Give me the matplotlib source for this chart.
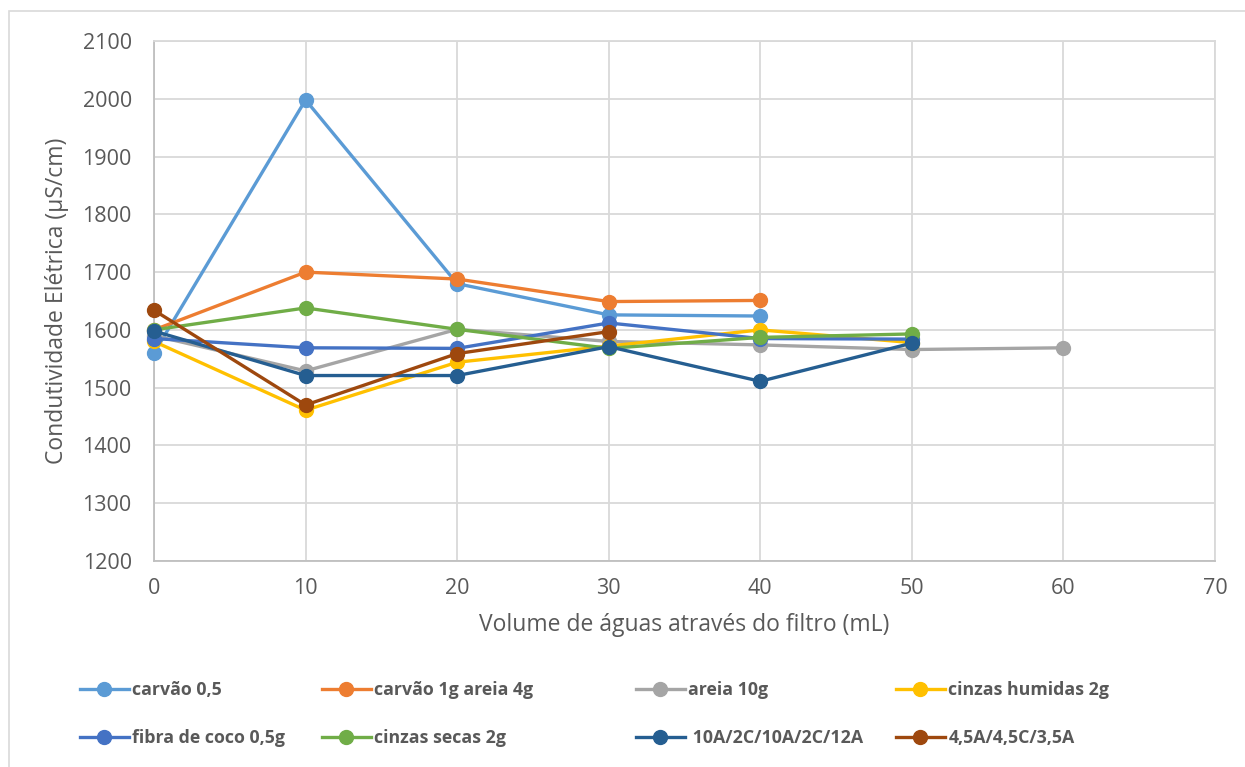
import matplotlib
matplotlib.use("Agg")
import matplotlib.pyplot as plt
from matplotlib.lines import Line2D
from matplotlib.patches import Rectangle

plt.rcParams['font.family'] = ['Open Sans', 'DejaVu Sans']

series_names = ["carvão 0,5", "carvão 1g areia 4g", "areia 10g", "cinzas humidas 2g",
                "fibra de coco 0,5g", "cinzas secas 2g", " 10A/2C/10A/2C/12A", "4,5A/4,5C/3,5A"]
colors = ["#5b9bd5", "#ed7d31", "#a5a5a5", "#ffc000",
          "#4472c4", "#70ad47", "#255e91", "#9e480e"]

x_carvao05 = [0, 10, 20, 30, 40]
y_carvao05 = [1560, 1998, 1680, 1626, 1624]
x_carvao1g = [0, 10, 20, 30, 40]
y_carvao1g = [1600, 1700, 1688, 1649, 1651]
x_areia = [0, 10, 20, 30, 40, 50, 60]
y_areia = [1590, 1529, 1601, 1580, 1574, 1566, 1569]
x_humidas = [0, 10, 20, 30, 40, 50]
y_humidas = [1580, 1461, 1544, 1572, 1600, 1578]
x_fibra = [0, 10, 20, 30, 40, 50]
y_fibra = [1585, 1569, 1568, 1612, 1585, 1584]
x_secas = [0, 10, 20, 30, 40, 50]
y_secas = [1600, 1638, 1601, 1568, 1587, 1593]
x_10a = [0, 10, 20, 30, 40, 50]
y_10a = [1598, 1521, 1521, 1571, 1511, 1577]
x_45a = [0, 10, 20, 30]
y_45a = [1634, 1470, 1559, 1597]

xs = [x_carvao05, x_carvao1g, x_areia, x_humidas, x_fibra, x_secas, x_10a, x_45a]
ys = [y_carvao05, y_carvao1g, y_areia, y_humidas, y_fibra, y_secas, y_10a, y_45a]

xticks = [0, 10, 20, 30, 40, 50, 60, 70]
yticks = [1200, 1300, 1400, 1500, 1600, 1700, 1800, 1900, 2000, 2100]

W, H = 1245, 767
fig = plt.figure(figsize=(W / 100, H / 100), dpi=100)
ax = fig.add_axes([154 / W, 1 - 561 / H, (1215 - 154) / W, (561 - 41) / H])

text_c = "#595959"
for xv, yv, c in zip(xs, ys, colors):
    ax.plot(xv, yv, color=c, lw=2.4, marker='o', ms=10, mec=c, mfc=c, zorder=3,
            solid_joinstyle='round', clip_on=False)

ax.set_xlim(0, 70)
ax.set_ylim(1200, 2100)
ax.set_xticks(xticks)
ax.set_yticks(yticks)
ax.grid(True, color="#d9d9d9", lw=1.3, zorder=0)
ax.set_axisbelow(True)
for s in ['top', 'right']:
    ax.spines[s].set_color("#d9d9d9")
    ax.spines[s].set_linewidth(1.3)
for s in ['left', 'bottom']:
    ax.spines[s].set_color("#bfbfbf")
    ax.spines[s].set_linewidth(1.3)
ax.tick_params(length=0, labelsize=15.5, labelcolor=text_c)
ax.tick_params(axis='x', pad=12)
ax.tick_params(axis='y', pad=16)
ax.set_xlabel("Volume de águas através do filtro (mL)", fontsize=16.5, color=text_c, labelpad=10)
ax.set_ylabel("Condutividade Elétrica (µS/cm)", fontsize=16.5, color=text_c, labelpad=10)

# chart border
fig.patches.append(Rectangle((9 / W, -0.01), 1.1, 1 - 11 / H + 0.01, transform=fig.transFigure,
                             fill=False, edgecolor="#d9d9d9", lw=1.2))

# legend: 4 columns, 2 rows
col_x = [80, 322, 636, 896]
for ci in range(4):
    idx = [ci, ci + 4]
    handles = [Line2D([0], [0], color=colors[i], lw=2.4, marker='o', ms=10) for i in idx]
    labels = [series_names[i] for i in idx]
    leg = fig.legend(handles, labels, loc='upper left',
                     bbox_to_anchor=(col_x[ci] / W, 1 - 681 / H),
                     frameon=False, handlelength=2.75, handletextpad=0.2,
                     labelspacing=1.7, borderpad=0, borderaxespad=0,
                     prop={'weight': 'bold', 'size': 12.8})
    for t in leg.get_texts():
        t.set_color(text_c)

fig.savefig("out.png", dpi=100, facecolor="white")
